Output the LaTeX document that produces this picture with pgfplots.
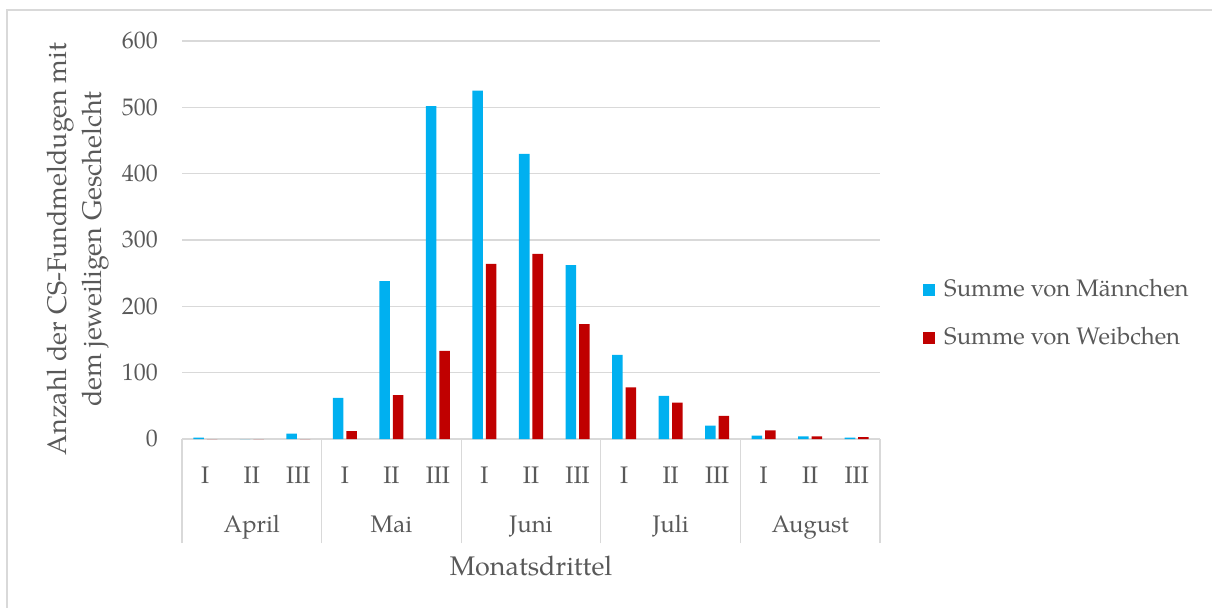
\documentclass[border=0pt]{standalone}
\usepackage{pgfplots}
\pgfplotsset{compat=1.18}
\usepackage{fontspec}
\setmainfont{TeX Gyre Pagella}

\definecolor{maleblue}{HTML}{00B0F0}
\definecolor{femalered}{HTML}{C00000}
\definecolor{gridgray}{HTML}{D9D9D9}
\definecolor{textgray}{HTML}{595959}

\newcommand{\chartfont}{\fontsize{24}{27}\selectfont}
\newcommand{\titlefont}{\fontsize{27}{35}\selectfont}

\begin{document}
\chartfont
\begin{tikzpicture}
\useasboundingbox (0,0) rectangle (1212bp,608bp);
% chart frame (top and left edges)
\draw[gridgray, line width=1.5bp] (7bp,0bp) -- (7bp,598bp) -- (1212bp,598bp);

\begin{axis}[
  at={(182bp,169bp)}, anchor=south west,
  width=698bp, height=398bp, scale only axis,
  xmin=-0.5, xmax=14.5, ymin=0, ymax=600,
  ybar, bar width=0.226,
  ytick={0,100,...,600},
  ymajorgrids,
  grid style={gridgray, line width=1.3bp},
  axis line style={draw=none},
  major tick length=0,
  xtick pos=bottom, ytick pos=left,
  xtick={0,...,14},
  xticklabels={I,II,III,I,II,III,I,II,III,I,II,III,I,II,III},
  extra x ticks={-0.5,2.5,5.5,8.5,11.5,14.5},
  extra x tick labels={},
  extra x tick style={grid=none, major tick length=104bp, tick align=outside,
    tick style={gridgray, line width=1.3bp}},
  /pgf/number format/assume math mode=true,
  tick label style={font=\chartfont, text=textgray},
  xticklabel style={anchor=base, yshift=-44bp},
  yticklabel style={anchor=east, inner sep=0pt, xshift=-24bp},
  xlabel={Monatsdrittel},
  xlabel style={font=\titlefont, text=textgray, at={(axis description cs:0.5,0)},
    anchor=base, yshift=-136bp},
  ylabel={Anzahl der CS-Fundmeldugen mit\\dem jeweiligen Geschelcht},
  ylabel style={font=\titlefont, text=textgray, align=center,
    at={(axis description cs:-0.149,0.477)}, anchor=center},
  legend style={at={(axis description cs:1.0616,0.314)}, anchor=west,
    draw=none, fill=none, inner sep=0pt, row sep=26bp,
    nodes={inner sep=0pt, text height=17bp, text depth=5bp, text=textgray, font=\chartfont},
    /tikz/every odd column/.append style={column sep=9bp}},
  legend cell align=left,
  legend image code/.code={\fill[#1] (0bp,-6bp) rectangle (12bp,6bp);},
  clip=false,
]
\addplot[fill=maleblue, draw=none, bar shift=-0.145] coordinates {
  (0,2) (1,0) (2,8) (3,62) (4,238) (5,502) (6,525) (7,430) (8,262)
  (9,127) (10,65) (11,20) (12,5) (13,4) (14,2)};
\addlegendentry{Summe von Männchen}
\addplot[fill=femalered, draw=none, bar shift=0.145] coordinates {
  (0,0) (1,0) (2,0) (3,12) (4,66) (5,133) (6,264) (7,279) (8,173)
  (9,78) (10,55) (11,35) (12,13) (13,4) (14,3)};
\addlegendentry{Summe von Weibchen}

% month names below the thirds
\foreach \m/\pos in {April/1, Mai/4, Juni/7, Juli/10, August/13}{
  \edef\temp{\noexpand\node[anchor=base, text=textgray, font=\noexpand\chartfont]
    at (axis cs:\pos,0) [yshift=-93bp] {\m};}
  \temp
}
\end{axis}
\end{tikzpicture}
\end{document}
